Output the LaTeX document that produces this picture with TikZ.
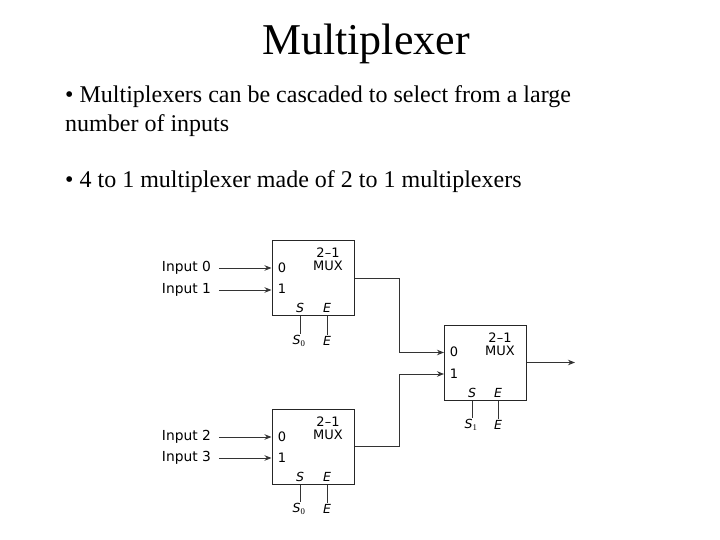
\documentclass[tikz,border=0pt]{standalone}
\usepackage{fontspec}
\setmainfont{Liberation Serif}
\newfontfamily\muxfont{DejaVu Sans}
\usetikzlibrary{arrows.meta}

\begin{document}
\begin{tikzpicture}[
  x=1bp,y=-1bp,
  ttl/.style={inner sep=0pt,font=\fontsize{44bp}{48bp}\selectfont},
  txt/.style={inner sep=0pt,anchor=base west,align=left,font=\fontsize{24bp}{29bp}\selectfont},
  box/.style={draw=black!85,line width=1pt,minimum width=82bp,minimum height=75bp,inner sep=0pt},
  lbl/.style={inner sep=0pt,outer sep=8pt,font=\muxfont\fontsize{13.8bp}{15bp}\selectfont},
  pin/.style={inner sep=0pt,font=\muxfont\fontsize{13bp}{15bp}\selectfont},
  sel/.style={inner sep=0pt,outer sep=1pt,font=\muxfont\itshape\fontsize{12.5bp}{15bp}\selectfont},
  wire/.style={draw=black!80,line width=0.9pt},
  arr/.style={wire,-{Stealth[length=7bp,width=5.5bp]}}]
\useasboundingbox (0,0) rectangle (720,540);

% --- heading -----------------------------------------------------------
\node[ttl] (title) at (366,44) {Multiplexer};
\node[txt] (textone) at (65,132) {• Multiplexers can be cascaded to select from a large\\number of inputs};
\node[txt] (texttwo) at (65,188) {• 4 to 1 multiplexer made of 2 to 1 multiplexers};

% --- upper mux ---------------------------------------------------------
\node[box] (muxa) at (313,278) {};
\node[pin] (muxatwo) at (328,253) {2–1};
\node[pin] (muxaname) at (328,266) {MUX};
\node[pin] (muxazero) at (282,268) {0};
\node[pin] (muxaone) at (282,289) {1};
\node[sel] (muxas) at (300,308) {S};
\node[sel] (muxae) at (327,308) {E};
\node[lbl,anchor=west] (inzero) at (154,268) {Input 0};
\node[lbl,anchor=west] (inone) at (154,290) {Input 1};
\node[sel] (sela) at (299,341) {S\textsubscript{\normalfont 0}};
\node[sel] (ena) at (327,341) {E};
\draw[arr] (inzero.east) -- (inzero.east -| muxa.west);
\draw[arr] (inone.east) -- (inone.east -| muxa.west);
\draw[wire] (muxas |- muxa.south) -- (sela.north -| muxas);
\draw[wire] (muxae |- muxa.south) -- (ena.north);

% --- lower mux ---------------------------------------------------------
\node[box] (muxb) at (313,446.5) {};
\node[pin] (muxbtwo) at (328,421.5) {2–1};
\node[pin] (muxbname) at (328,435) {MUX};
\node[pin] (muxbzero) at (282,437) {0};
\node[pin] (muxbone) at (282,458) {1};
\node[sel] (muxbs) at (300,477) {S};
\node[sel] (muxbe) at (327,477) {E};
\node[lbl,anchor=west] (intwo) at (154,437) {Input 2};
\node[lbl,anchor=west] (inthree) at (154,458) {Input 3};
\node[sel] (selb) at (299,509) {S\textsubscript{\normalfont 0}};
\node[sel] (enb) at (327,509) {E};
\draw[arr] (intwo.east) -- (intwo.east -| muxb.west);
\draw[arr] (inthree.east) -- (inthree.east -| muxb.west);
\draw[wire] (muxbs |- muxb.south) -- (selb.north -| muxbs);
\draw[wire] (muxbe |- muxb.south) -- (enb.north);

% --- output mux --------------------------------------------------------
\node[box] (muxc) at (485.5,362.5) {};
\node[pin] (muxctwo) at (500,338) {2–1};
\node[pin] (muxcname) at (500,351) {MUX};
\node[pin] (muxczero) at (454,352) {0};
\node[pin] (muxcone) at (454,374) {1};
\node[sel] (muxcs) at (472,393) {S};
\node[sel] (muxce) at (498,393) {E};
\node[sel] (selc) at (471,425) {S\textsubscript{\normalfont 1}};
\node[sel] (enc) at (498,425) {E};
\coordinate (out) at (575,362.5);
\draw[wire] (muxcs |- muxc.south) -- (selc.north -| muxcs);
\draw[wire] (muxce |- muxc.south) -- (enc.north);
\draw[arr] (muxc.east) -- (out);

% --- links between muxes -----------------------------------------------
\coordinate (upin) at (444,352.5);
\coordinate (lowin) at (444,374);
\coordinate (upbend) at (399,278);
\coordinate (lowbend) at (399,446.5);
\draw[arr] (muxa.east) -- (upbend) -- (upbend |- upin) -- (upin);
\draw[arr] (muxb.east) -- (lowbend) -- (lowbend |- lowin) -- (lowin);
\end{tikzpicture}
\end{document}
